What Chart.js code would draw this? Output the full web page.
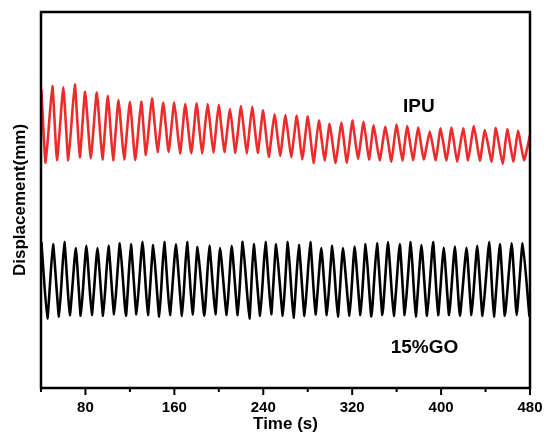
<!DOCTYPE html>
<html>
<head>
<meta charset="utf-8">
<script src="https://cdn.jsdelivr.net/npm/chart.js@4.4.1/dist/chart.umd.min.js"></script>
<style>
  html, body { margin: 0; padding: 0; background: #fff; }
  #wrap { width: 544px; height: 436px; }
</style>
</head>
<body>
<div id="wrap"><canvas id="myChart" width="544" height="436"></canvas></div>
<script>
// turning points (peak, trough, peak, ...)
const ipuTime = [40.3, 44.2, 50.2, 54.4, 60.1, 64.6, 70.4, 74.9, 79.7, 84.8, 90.2, 95.3, 100.1, 104.9,
  109.7, 114.8, 120.0, 124.8, 130.2, 134.4, 139.8, 144.9, 150.0, 154.8, 159.9, 165.1, 169.8, 175.2,
  180.0, 184.9, 189.9, 195.1, 199.9, 205.0, 210.1, 214.9, 220.0, 225.1, 230.0, 235.0, 239.9, 244.9,
  250.1, 255.2, 260.0, 265.1, 270.2, 275.0, 280.1, 285.2, 290.0, 295.2, 299.7, 305.1, 310.2, 315.3,
  320.1, 325.2, 330.3, 335.1, 339.3, 344.7, 349.9, 355.3, 359.8, 365.2, 369.4, 374.8, 379.3, 384.4,
  389.8, 395.2, 399.5, 404.9, 409.4, 414.4, 419.9, 424.3, 429.5, 434.9, 439.4, 445.5, 449.3, 455.4,
  459.5, 465.0, 469.2, 474.6, 480];
const ipuDisp = [7.93, 5.99, 8.03, 6.06, 8.00, 6.06, 8.07, 6.14, 7.88, 6.11, 7.86, 6.08, 7.77, 6.06,
  7.66, 6.08, 7.61, 6.06, 7.61, 6.20, 7.70, 6.28, 7.59, 6.28, 7.59, 6.24, 7.55, 6.24,
  7.57, 6.24, 7.55, 6.26, 7.53, 6.28, 7.42, 6.26, 7.50, 6.24, 7.48, 6.26, 7.38, 6.15,
  7.28, 6.17, 7.26, 6.14, 7.24, 6.08, 7.22, 5.99, 7.11, 6.06, 7.02, 5.98, 7.06, 5.99,
  7.11, 6.09, 7.08, 6.08, 6.99, 6.05, 6.95, 6.02, 7.01, 6.05, 6.97, 6.06, 6.93, 6.08,
  6.82, 6.06, 6.91, 6.05, 6.93, 6.02, 6.91, 6.06, 6.97, 6.05, 6.86, 6.02, 6.91, 5.96,
  6.88, 6.02, 6.84, 6.06, 6.73];

const goTime = [40.3, 45.7, 50.8, 56.2, 61.0, 65.9, 71.3, 75.8, 80.8, 85.7, 90.8, 95.9, 100.7, 105.8,
  111.0, 116.4, 120.9, 125.9, 131.3, 136.2, 141.0, 146.4, 150.9, 156.0, 161.4, 166.9, 171.4, 176.4,
  180.9, 187.0, 191.5, 196.9, 201.1, 207.1, 211.6, 217.0, 221.5, 227.5, 231.4, 237.2, 242.0, 247.1,
  251.6, 257.6, 262.1, 267.2, 272.0, 277.1, 282.3, 287.0, 292.2, 297.2, 302.1, 307.1, 311.7, 317.6,
  322.2, 327.5, 332.1, 337.3, 342.3, 347.2, 352.2, 357.4, 362.8, 367.3, 372.7, 377.2, 382.3, 387.4,
  392.8, 397.3, 402.4, 407.2, 412.4, 416.9, 422.9, 427.4, 432.5, 437.3, 443.3, 447.5, 452.9, 457.4,
  463.5, 468.0, 473.4, 479.5];
const goDisp = [3.89, 1.85, 3.82, 1.90, 3.88, 1.94, 3.72, 1.92, 3.78, 1.94, 3.72, 1.92, 3.78, 1.96,
  3.85, 1.92, 3.82, 1.96, 3.89, 1.94, 3.80, 1.90, 3.88, 1.94, 3.82, 1.92, 3.88, 1.96,
  3.75, 1.92, 3.78, 1.96, 3.72, 1.94, 3.78, 1.94, 3.89, 1.85, 3.82, 1.92, 3.88, 1.96,
  3.82, 1.92, 3.88, 1.87, 3.80, 1.92, 3.88, 1.96, 3.72, 1.94, 3.78, 1.90, 3.72, 1.92,
  3.76, 1.94, 3.82, 1.90, 3.85, 1.94, 3.88, 1.92, 3.82, 1.94, 3.88, 1.90, 3.80, 1.92,
  3.88, 1.94, 3.73, 1.94, 3.76, 1.92, 3.73, 1.94, 3.78, 1.92, 3.88, 1.90, 3.82, 1.92,
  3.85, 1.94, 3.85, 1.90];

const xTicks = [40, 80, 120, 160, 200, 240, 280, 320, 360, 400, 440, 480];
const xLabels = ['80', '160', '240', '320', '400', '480'];

const seriesLabels = [
  { text: 'IPU', x: 380, y: 7.47 },
  { text: '15%GO', x: 385, y: 1.06 }
];

function toPoints(xs, ys) {
  return xs.map(function (t, i) { return { x: t, y: ys[i] }; });
}

// box round the plot, tick marks and the two series names
const framePlugin = {
  id: 'frame',
  afterDatasetsDraw(chart) {
    const ctx = chart.ctx;
    const a = chart.chartArea;
    const xs = chart.scales.x, ys = chart.scales.y;
    ctx.save();
    ctx.strokeStyle = '#000';
    ctx.lineWidth = 2.5;
    ctx.strokeRect(a.left, a.top, a.right - a.left, a.bottom - a.top);
    ctx.lineWidth = 2;
    xTicks.forEach(function (v) {
      const px = xs.getPixelForValue(v);
      const len = xLabels.indexOf(String(v)) >= 0 ? 7 : 4;
      ctx.beginPath();
      ctx.moveTo(px, a.bottom);
      ctx.lineTo(px, a.bottom + len);
      ctx.stroke();
    });
    ctx.fillStyle = '#000';
    ctx.font = 'bold 19px Arial, "Liberation Sans", sans-serif';
    ctx.textAlign = 'center';
    ctx.textBaseline = 'middle';
    seriesLabels.forEach(function (l) {
      ctx.fillText(l.text, xs.getPixelForValue(l.x), ys.getPixelForValue(l.y));
    });
    ctx.restore();
  }
};

const config = {
  type: 'line',
  data: {
    datasets: [
      {
        label: 'IPU',
        data: toPoints(ipuTime, ipuDisp),
        borderColor: '#ee2b2b',
        borderWidth: 2.6,
        pointRadius: 0,
        tension: 0.15
      },
      {
        label: '15%GO',
        data: toPoints(goTime, goDisp),
        borderColor: '#000000',
        borderWidth: 2.6,
        pointRadius: 0,
        tension: 0.15
      }
    ]
  },
  options: {
    responsive: false,
    animation: false,
    layout: { padding: { left: 0, right: 14, top: 12, bottom: 0 } },
    plugins: {
      legend: { display: false },
      tooltip: { enabled: false }
    },
    scales: {
      x: {
        type: 'linear',
        min: 40,
        max: 480,
        afterFit: function (s) { s.height = 48; s.paddingLeft = 0; s.paddingRight = 0; },
        grid: { display: false, drawTicks: false },
        border: { display: false },
        ticks: {
          stepSize: 40,
          autoSkip: false,
          maxRotation: 0,
          padding: 11,
          color: '#000',
          font: { family: 'Arial, "Liberation Sans", sans-serif', size: 15, weight: 'bold' },
          callback: function (v) { return xLabels.indexOf(String(v)) >= 0 ? String(v) : ''; }
        },
        title: {
          display: true,
          text: 'Time (s)',
          color: '#000',
          padding: { top: 0, bottom: 1 },
          font: { family: 'Arial, "Liberation Sans", sans-serif', size: 17, weight: 'bold' }
        }
      },
      y: {
        type: 'linear',
        min: 0,
        max: 10,
        afterFit: function (s) { s.width = 41; s.paddingTop = 0; s.paddingBottom = 0; },
        grid: { display: false, drawTicks: false },
        border: { display: false },
        ticks: { display: false },
        title: {
          display: true,
          text: 'Displacement(mm)',
          color: '#000',
          padding: { top: 10, bottom: 0 },
          font: { family: 'Arial, "Liberation Sans", sans-serif', size: 17, weight: 'bold' }
        }
      }
    }
  },
  plugins: [framePlugin]
};

new Chart(document.getElementById('myChart'), config);
</script>
</body>
</html>
